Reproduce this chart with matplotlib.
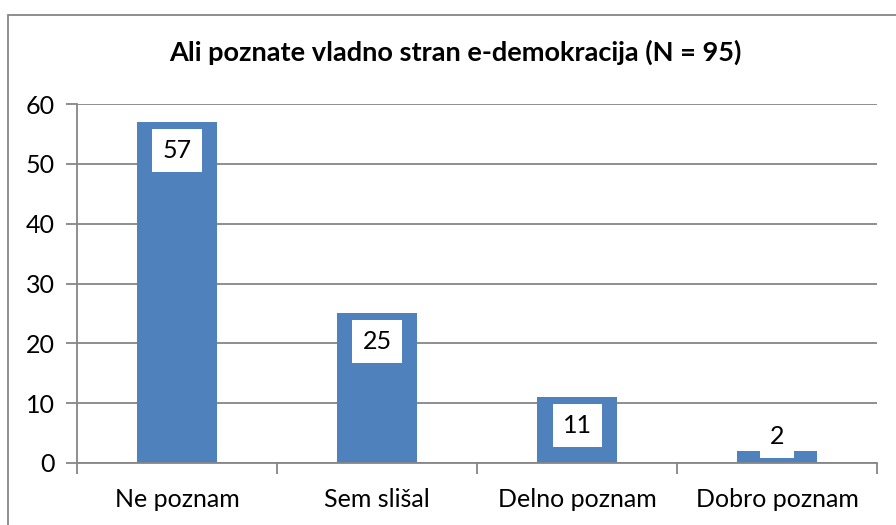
import matplotlib.pyplot as plt
from matplotlib.patches import Rectangle

# Data
categories = ["Ne poznam", "Sem slišal", "Delno poznam", "Dobro poznam"]
counts = [57, 25, 11, 2]
title = "Ali poznate vladno stran e-demokracija (N = 95)"

plt.rcParams['font.family'] = ['Lato', 'DejaVu Sans']
grey = '#868686'
bar_color = '#4F81BD'

W, H = 896, 525
fig = plt.figure(figsize=(W / 100, H / 100), dpi=100)

# chart area border (runs off the right and bottom edges like in the screenshot)
fig.patches.append(Rectangle((8 / W, -0.1), 1.0, 1 - 15 / H + 0.1,
                             transform=fig.transFigure, fill=False,
                             edgecolor=grey, linewidth=1.3))

ax = fig.add_axes([77 / W, 62 / H, 800 / W, 359 / H])
x = range(len(categories))
ax.bar(x, counts, width=0.4, color=bar_color, zorder=2)

ax.set_xlim(-0.5, len(categories) - 0.5)
ax.set_ylim(0, 60)
ax.set_yticks(range(0, 61, 10))
ax.yaxis.grid(True, color=grey, linewidth=1.3, zorder=0)
ax.set_axisbelow(True)

# category labels centred, tick marks on category boundaries
ax.set_xticks(list(x))
ax.set_xticklabels(categories)
ax.set_xticks([i + 0.5 for i in range(-1, len(categories))], minor=True)
ax.tick_params(axis='x', which='major', length=0, labelsize=18, pad=18)
ax.tick_params(axis='x', which='minor', length=8, width=1.3, color=grey)
ax.tick_params(axis='y', length=8, width=1.3, color=grey, labelsize=18, pad=8)

for side in ['top', 'right']:
    ax.spines[side].set_visible(False)
for side in ['left', 'bottom']:
    ax.spines[side].set_color(grey)
    ax.spines[side].set_linewidth(1.3)

# value labels in white boxes near the top of each bar
for i, v in enumerate(counts):
    ypos = max(v - 4.76, 4.43)
    ax.text(i, ypos, str(v), ha='center', va='center', fontsize=18, zorder=3,
            bbox=dict(facecolor='white', edgecolor='none',
                      boxstyle='square,pad=0.4'))

fig.text(0.508, 1 - 52 / H, title, ha='center', va='center',
         fontsize=19.5, fontweight='bold')

fig.savefig('out.png', dpi=100)
